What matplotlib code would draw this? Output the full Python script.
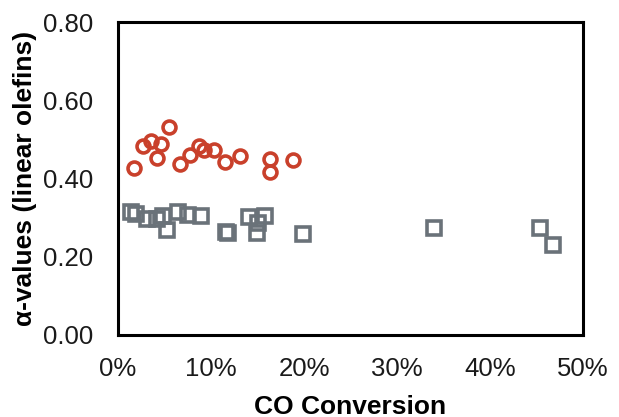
import matplotlib
matplotlib.use("Agg")
import matplotlib.pyplot as plt
from matplotlib.ticker import FuncFormatter

# CO conversion (%) and alpha-values
conv_red = [1.7, 2.7, 3.6, 4.6, 4.2, 5.5, 6.7, 7.7, 8.7, 9.3, 10.3, 11.5, 13.1, 16.3, 16.3, 18.8]
alpha_red = [0.428, 0.482, 0.496, 0.488, 0.452, 0.531, 0.438, 0.461, 0.482, 0.472, 0.472, 0.442, 0.458, 0.451, 0.417, 0.446]

conv_grey = [1.4, 1.9, 3.1, 4.2, 4.8, 5.3, 6.5, 7.5, 8.9, 11.6, 11.8, 14.1, 14.9, 15.1, 15.8, 19.9, 34.0, 45.4, 46.8]
alpha_grey = [0.315, 0.309, 0.297, 0.297, 0.304, 0.269, 0.315, 0.307, 0.304, 0.263, 0.261, 0.302, 0.261, 0.286, 0.304, 0.258, 0.274, 0.274, 0.230]

x_ticks = [0, 10, 20, 30, 40, 50]
y_ticks = [0.0, 0.2, 0.4, 0.6, 0.8]

plt.rcParams['font.family'] = ['Liberation Sans', 'DejaVu Sans']

fig = plt.figure(figsize=(6.19, 4.17), dpi=100)
ax = fig.add_axes([0.1906, 0.197, 0.7514, 0.750])

ax.plot(conv_grey, alpha_grey, linestyle='none', marker='s', markersize=9.5,
        markerfacecolor='none', markeredgecolor='#6a7279', markeredgewidth=2.6)
ax.plot(conv_red, alpha_red, linestyle='none', marker='o', markersize=9.3,
        markerfacecolor='none', markeredgecolor='#c9402b', markeredgewidth=2.6)

ax.set_xlim(0, 50)
ax.set_ylim(0, 0.8)
ax.set_xticks(x_ticks)
ax.set_yticks(y_ticks)
ax.xaxis.set_major_formatter(FuncFormatter(lambda v, p: f"{v:.0f}%"))
ax.yaxis.set_major_formatter(FuncFormatter(lambda v, p: f"{v:.2f}"))
ax.tick_params(length=0, labelsize=18.5, colors='#1a1a1a')
ax.tick_params(axis='y', pad=18)
ax.tick_params(axis='x', pad=16)
for s in ax.spines.values():
    s.set_linewidth(2.2)
    s.set_color('black')

ax.set_xlabel("CO Conversion", fontsize=19, fontweight='bold', labelpad=10)
ax.set_ylabel("α-values (linear olefins)", fontsize=19, fontweight='bold', labelpad=4)

fig.savefig("out.png", dpi=100)
